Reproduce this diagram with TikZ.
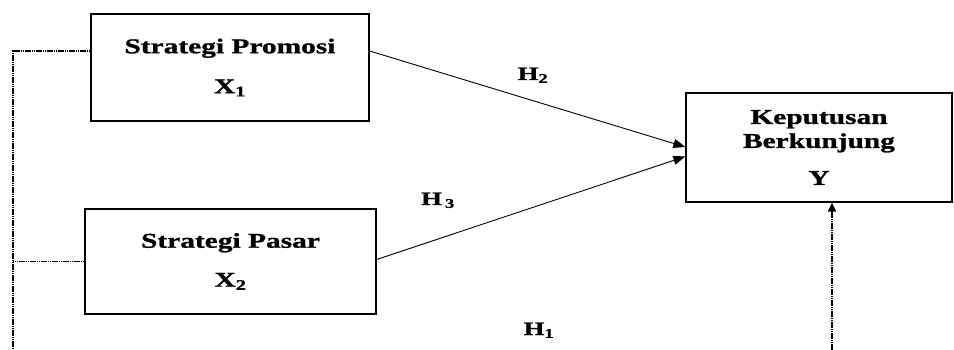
\documentclass[tikz,border=0pt]{standalone}
\usepackage{fontspec}
\usetikzlibrary{arrows.meta,calc}
\newfontfamily\bstretch[FakeStretch=1.4,FakeBold=1.2]{Liberation Serif}
\tikzset{
  varbox/.style={draw, line width=1.3pt, rectangle, align=center, inner sep=0pt,
    font=\bstretch\bfseries\fontsize{21}{25}\selectfont},
  hlabel/.style={font=\bstretch\bfseries\fontsize{19}{23}\selectfont, inner sep=0pt, anchor=base},
  path/.style={line width=0.9pt, -{Triangle[length=12pt,width=9pt]}},
  dotline/.style={line width=1.4pt, dash pattern=on 1.6pt off 0.6pt},
}
\begin{document}
\begin{tikzpicture}[x=1pt,y=-1pt]
\useasboundingbox (0,0) rectangle (954,350);
\node[varbox, minimum width=278pt, minimum height=107pt] (B1) at (230,67.5)
  {Strategi Promosi\\[15pt] X\textsubscript{1}};
\node[varbox, minimum width=291pt, minimum height=105pt] (B2) at (230.5,261.5)
  {Strategi Pasar\\[14pt] X\textsubscript{2}};
\node[varbox, minimum width=266pt, minimum height=109pt] (Y) at (819,147.5)
  {Keputusan\\[-1pt] Berkunjung\\[12pt] Y};
\node[hlabel] (H2) at (533,80) {H\textsubscript{2}};
\node[hlabel] (H3) at (438,205) {H\,\textsubscript{3}};
\node[hlabel] (H1) at (539,335) {H\textsubscript{1}};
\coordinate (lb) at (13,350);
\coordinate (rb) at (832,350);
\draw[path] ([yshift=16.5pt]B1.east) -- ([yshift=0.5pt]Y.west);
\draw[path] ([yshift=2pt]B2.east) -- ([yshift=-9pt]Y.west);
\draw[dotline] ([yshift=16.5pt]B1.west) -| (lb);
\draw[dotline] (B2.west) -- (B2.west -| lb);
\draw[dotline, -{Triangle[length=9pt,width=8pt]}] (rb) -- (rb |- Y.south);
\end{tikzpicture}
\end{document}
